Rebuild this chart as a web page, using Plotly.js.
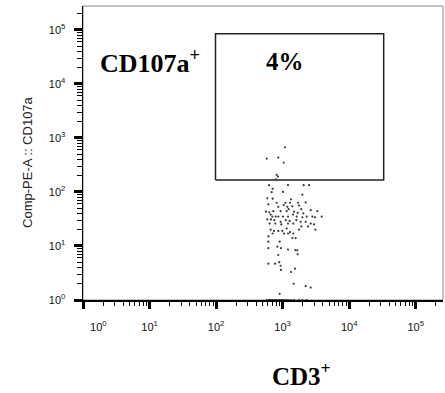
<!DOCTYPE html>
<html>
<head>
<meta charset="utf-8">
<script src="https://cdn.plot.ly/plotly-3.0.1.min.js"></script>
<style>
  html, body { margin: 0; padding: 0; background: #fff; }
  #chart { width: 445px; height: 393px; }
</style>
</head>
<body>
<div id="chart"></div>
<script>
// CD3 (x) and CD107a (y) events
const cd3Values = [
  1086, 575, 861, 1037, 813, 851, 794, 624, 1205, 2070, 2489, 708, 684, 1013, 1977,
  589, 708, 813, 1099, 1291, 1337, 1702, 2218, 610, 861, 1037, 1178, 1400, 1762, 1910,
  562, 631, 724, 933, 1151, 1233, 1483, 1683, 2046, 2642, 3327, 3864, 661, 700, 785,
  861, 1013, 1205, 1432, 1626, 1977, 2296, 2799, 3069, 589, 668, 750, 933, 1112, 1276,
  1607, 1866, 2218, 2642, 2965, 638, 776, 955, 1205, 1449, 1910, 2404, 661, 741, 861,
  989, 1151, 1291, 1449, 1762, 3105, 708, 1049, 1205, 1570, 1400, 610, 610, 902, 832,
  944, 610, 1205, 1552, 1663, 1683, 861, 610, 767, 891, 933, 944, 1535, 1337, 1466,
  2218, 2642, 902
];
const cd107aValues = [
  671, 414, 432, 349, 207, 192, 171, 133, 133, 133, 133, 114, 99, 100, 89,
  76, 75, 63, 63, 63, 73, 63, 64, 59, 53, 57, 53, 54, 56, 48,
  43, 42, 44, 44, 44, 48, 43, 41, 40, 46, 44, 35, 38, 35, 35,
  35, 35, 35, 38, 35, 34, 35, 35, 34, 31, 31, 30, 28, 30, 29,
  30, 28, 28, 26, 25, 26, 26, 25, 26, 26, 23, 23, 20, 19, 19,
  19, 21, 18, 17, 20, 20, 17, 17, 17, 14, 14, 15, 12, 12, 9.7,
  9.1, 9.1, 8.6, 8.4, 8.3, 7.0, 6.8, 4.7, 4.7, 5.0, 4.3, 3.6, 3.8, 3.3, 2.0,
  1.8, 1.7, 1.3
];
// events piled on the lower edge of the CD107a scale
const cd3AxisEvents = [575, 610, 638, 668, 700, 724, 758, 794, 832, 871, 912, 955, 1000, 1049, 1124, 1205, 1315, 1483, 1762, 1977, 2296];
const cd107aAxisEvents = cd3AxisEvents.map(() => 1);

// CD107a+ gate
const gateX = [98, 33000, 33000, 98, 98];
const gateY = [166, 166, 84300, 84300, 166];
const gateLabel = '4%';

const decadeVals = [1, 10, 100, 1000, 10000, 100000];
const minorMultipliers = [2, 3, 4, 5, 6, 7, 8, 9];
const minorVals = [];
decadeVals.forEach(d => minorMultipliers.forEach(m => minorVals.push(d * m)));
const xTickText = ['&nbsp;&nbsp;&nbsp;&nbsp;&nbsp;&nbsp;&nbsp;&nbsp;&nbsp;&nbsp;10<sup>0</sup>', '10<sup>1</sup>', '10<sup>2</sup>', '10<sup>3</sup>', '10<sup>4</sup>', '10<sup>5</sup>'];
const yTickText = ['10<sup>0</sup>', '10<sup>1</sup>', '10<sup>2</sup>', '10<sup>3</sup>', '10<sup>4</sup>', '10<sup>5</sup>'];

const xRange = [0, 5.41];
const yRange = [0, 5.44];

const dotStyle = { size: 2.2, color: '#3a3a3a' };

const traces = [
  {
    type: 'scatter', mode: 'lines', x: gateX, y: gateY,
    line: { color: '#222', width: 1.5 }, hoverinfo: 'skip', showlegend: false
  },
  {
    type: 'scatter', mode: 'markers', x: cd3Values, y: cd107aValues,
    marker: dotStyle, showlegend: false
  },
  {
    type: 'scatter', mode: 'markers', x: cd3AxisEvents, y: cd107aAxisEvents,
    marker: dotStyle, cliponaxis: false, showlegend: false
  },
  // empty traces so that the overlaid tick-mark axes are drawn
  { type: 'scatter', mode: 'markers', x: [], y: [], xaxis: 'x2', yaxis: 'y', showlegend: false },
  { type: 'scatter', mode: 'markers', x: [], y: [], xaxis: 'x3', yaxis: 'y', showlegend: false },
  { type: 'scatter', mode: 'markers', x: [], y: [], xaxis: 'x', yaxis: 'y2', showlegend: false },
  { type: 'scatter', mode: 'markers', x: [], y: [], xaxis: 'x', yaxis: 'y3', showlegend: false }
];

const labelFont = { family: 'Arial, "Liberation Sans", sans-serif', size: 11, color: '#111' };

function tickAxis(range, vals, len, width, extra) {
  return Object.assign({
    type: 'log', range: range, tickmode: 'array', tickvals: vals,
    ticks: 'outside', ticklen: len, tickwidth: width, tickcolor: '#000',
    showticklabels: false, showline: false, showgrid: false, zeroline: false
  }, extra);
}

const layout = {
  width: 445,
  height: 393,
  margin: { l: 83, r: 2, t: 6, b: 93 },
  paper_bgcolor: '#fff',
  plot_bgcolor: '#fff',
  showlegend: false,
  xaxis: {
    type: 'log', range: xRange, tickmode: 'array', tickvals: decadeVals, ticktext: xTickText,
    ticks: 'outside', ticklen: 16, tickwidth: 1, tickcolor: 'rgba(0,0,0,0)',
    showline: true, linecolor: '#000', linewidth: 1.5,
    showgrid: false, zeroline: false, tickfont: labelFont
  },
  yaxis: {
    type: 'log', range: yRange, tickmode: 'array', tickvals: decadeVals, ticktext: yTickText,
    ticks: 'outside', ticklen: 14, tickwidth: 1, tickcolor: 'rgba(0,0,0,0)',
    showline: true, linecolor: '#000', linewidth: 1.5,
    showgrid: false, zeroline: false, tickfont: labelFont
  },
  xaxis2: tickAxis(xRange, decadeVals, 8, 3, { overlaying: 'x', anchor: 'y', side: 'bottom' }),
  xaxis3: tickAxis(xRange, minorVals, 5, 1, { overlaying: 'x', anchor: 'y', side: 'bottom' }),
  yaxis2: tickAxis(yRange, decadeVals, 8, 3, { overlaying: 'y', anchor: 'x', side: 'left' }),
  yaxis3: tickAxis(yRange, minorVals, 5, 1, { overlaying: 'y', anchor: 'x', side: 'left' }),
  shapes: [
    { type: 'rect', xref: 'paper', yref: 'paper', x0: 0, x1: 1, y0: 0, y1: 1,
      line: { color: '#888', width: 1 }, layer: 'below' }
  ],
  annotations: [
    { xref: 'paper', yref: 'paper', x: 0.186, y: 0.812, xanchor: 'center', yanchor: 'middle',
      text: '<b>CD107a<sup>+</sup></b>', showarrow: false,
      font: { family: '"Liberation Serif", "Times New Roman", serif', size: 26, color: '#000' } },
    { xref: 'paper', yref: 'paper', x: 0.561, y: 0.812, xanchor: 'center', yanchor: 'middle',
      text: '<b>' + gateLabel + '</b>', showarrow: false,
      font: { family: '"Liberation Serif", "Times New Roman", serif', size: 25, color: '#000' } },
    { xref: 'paper', yref: 'paper', x: 0.608, y: -0.25, xanchor: 'center', yanchor: 'middle',
      text: '<b>CD3<sup>+</sup></b>', showarrow: false,
      font: { family: '"Liberation Serif", "Times New Roman", serif', size: 25, color: '#000' } },
    { xref: 'paper', yref: 'paper', x: -0.156, y: 0.469, xanchor: 'center', yanchor: 'middle',
      text: 'Comp-PE-A :: CD107a', textangle: -90, showarrow: false,
      font: { family: 'Arial, "Liberation Sans", sans-serif', size: 13, color: '#222' } }
  ]
};

Plotly.newPlot('chart', traces, layout, { staticPlot: true, displayModeBar: false });
</script>
</body>
</html>
